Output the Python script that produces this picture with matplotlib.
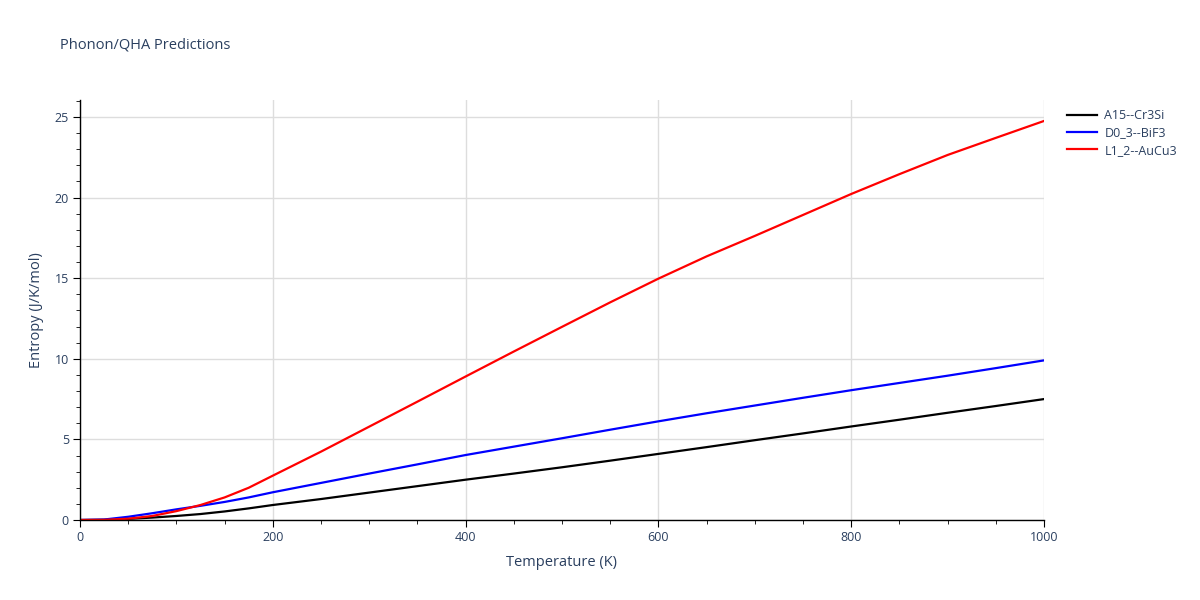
import matplotlib
matplotlib.use("Agg")
import matplotlib.pyplot as plt
from matplotlib.ticker import MultipleLocator

plt.rcParams['font.family'] = ['Open Sans', 'DejaVu Sans']

temps_a = [0, 25, 50, 75, 100, 125, 150, 175, 200, 250, 300, 350, 400, 450, 500, 550, 600, 650, 700, 750, 800, 850, 900, 950, 1000]
a15 = [0, 0.01, 0.07, 0.15, 0.25, 0.37, 0.53, 0.72, 0.93, 1.3, 1.7, 2.1, 2.5, 2.88, 3.27, 3.68, 4.1, 4.52, 4.95, 5.37, 5.8, 6.22, 6.65, 7.07, 7.5]
d03 = [0, 0.03, 0.2, 0.42, 0.66, 0.88, 1.12, 1.4, 1.72, 2.3, 2.88, 3.45, 4.03, 4.55, 5.07, 5.6, 6.12, 6.62, 7.1, 7.58, 8.05, 8.5, 8.95, 9.42, 9.9]
l12 = [0, 0.01, 0.08, 0.25, 0.55, 0.93, 1.4, 2.0, 2.75, 4.24, 5.79, 7.34, 8.9, 10.45, 11.98, 13.5, 14.97, 16.35, 17.62, 18.92, 20.22, 21.45, 22.64, 23.7, 24.75]

names = ["A15--Cr3Si", "D0_3--BiF3", "L1_2--AuCu3"]
colors = ["black", "blue", "red"]
series = [a15, d03, l12]

text_c = "#2a3f5f"
fig = plt.figure(figsize=(12, 6), dpi=100)
ax = fig.add_axes([80/1200, 80/600, (1044-80)/1200, 420/600])

for s, n, c in zip(series, names, colors):
    ax.plot(temps_a, s, color=c, lw=1.6, label=n)

ax.set_xlim(0, 1000)
ax.set_ylim(0, 26.05)
ax.xaxis.set_major_locator(MultipleLocator(200))
ax.xaxis.set_minor_locator(MultipleLocator(50))
ax.yaxis.set_major_locator(MultipleLocator(5))
ax.yaxis.set_minor_locator(MultipleLocator(1))
ax.grid(True, which='major', color='#dddddd', lw=1)
ax.set_axisbelow(True)
for sp in ['top', 'right']:
    ax.spines[sp].set_visible(False)
for sp in ['left', 'bottom']:
    ax.spines[sp].set_color('black')
    ax.spines[sp].set_linewidth(1)
ax.tick_params(which='major', direction='out', length=5, color='black', labelsize=9, labelcolor=text_c, pad=3)
ax.tick_params(which='minor', direction='out', length=3, color='black')
ax.set_xlabel("Temperature (K)", fontsize=10.5, color=text_c, labelpad=8)
ax.set_ylabel("Entropy (J/K/mol)", fontsize=10.5, color=text_c, labelpad=8)

fig.text(60/1200, 1 - 45/600, "Phonon/QHA Predictions", fontsize=10.5, color=text_c, va='center', ha='left')

leg = ax.legend(loc='upper left', bbox_to_anchor=(1062/1200, 1 - 104/600), bbox_transform=fig.transFigure,
                frameon=False, fontsize=9, handlelength=2.4, handletextpad=0.6, labelspacing=0.35, borderaxespad=0)
for t in leg.get_texts():
    t.set_color(text_c)

fig.savefig("out.png", dpi=100)
